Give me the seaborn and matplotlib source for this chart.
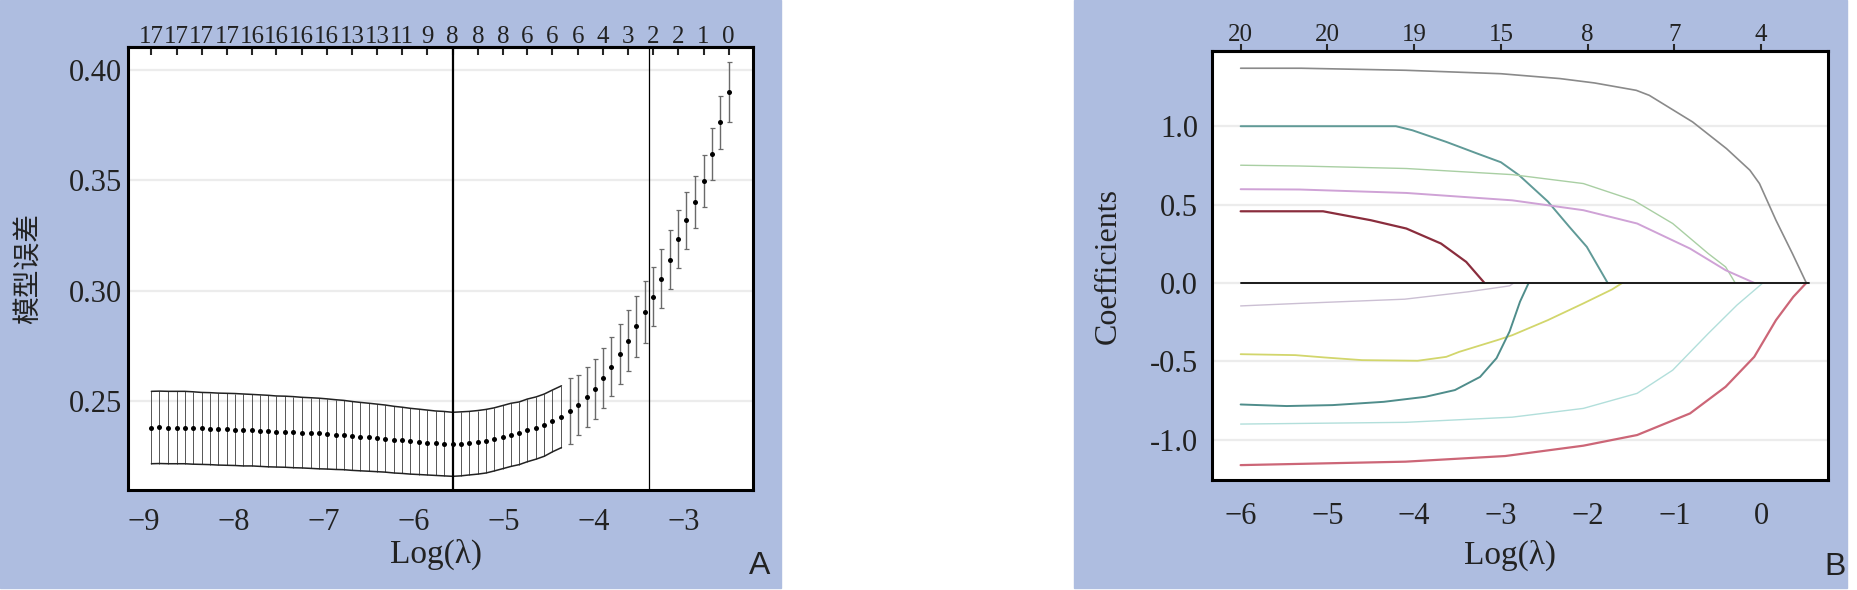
import pandas as pd
import seaborn as sns
import matplotlib
matplotlib.use("Agg")
import matplotlib.pyplot as plt
from matplotlib.patches import Rectangle
from matplotlib.ticker import FormatStrFormatter

# ---- panel A: cross-validated error along the lambda path ----
log_lambda = [-8.92, -8.83, -8.73, -8.64, -8.55, -8.46, -8.36, -8.27, -8.18, -8.08,
              -7.99, -7.90, -7.80, -7.71, -7.62, -7.53, -7.43, -7.34, -7.25, -7.15,
              -7.06, -6.97, -6.87, -6.78, -6.69, -6.60, -6.50, -6.41, -6.32, -6.22,
              -6.13, -6.04, -5.94, -5.85, -5.76, -5.67, -5.57, -5.48, -5.39, -5.29,
              -5.20, -5.11, -5.01, -4.92, -4.83, -4.74, -4.64, -4.55, -4.46, -4.36,
              -4.27, -4.18, -4.08, -3.99, -3.90, -3.81, -3.71, -3.62, -3.53, -3.43,
              -3.34, -3.25, -3.15, -3.06, -2.97, -2.88, -2.78, -2.69, -2.60, -2.50]
cv_mean = [0.2380, 0.2381, 0.2380, 0.2380, 0.2380, 0.2378,
           0.2376, 0.2375, 0.2373, 0.2372, 0.2371, 0.2369,
           0.2368, 0.2366, 0.2364, 0.2362, 0.2361, 0.2359,
           0.2357, 0.2355, 0.2353, 0.2351, 0.2348, 0.2346,
           0.2342, 0.2339, 0.2336, 0.2333, 0.2330, 0.2325,
           0.2322, 0.2318, 0.2315, 0.2312, 0.2309, 0.2307,
           0.2304, 0.2306, 0.2309, 0.2313, 0.2318, 0.2326,
           0.2337, 0.2347, 0.2354, 0.2367, 0.2378, 0.2391, 0.2410, 0.2429,
           0.2454, 0.2483, 0.2517, 0.2556, 0.2604, 0.2655, 0.2714, 0.2774, 0.2838, 0.2905,
           0.2973, 0.3054, 0.3141, 0.3235, 0.3320, 0.3403, 0.3498, 0.3621, 0.3762, 0.3898]
cv_se = [0.0164, 0.0164, 0.0164, 0.0164, 0.0164, 0.0164, 0.0163, 0.0163, 0.0163, 0.0163,
         0.0163, 0.0163, 0.0162, 0.0162, 0.0162, 0.0161, 0.0161, 0.0161, 0.0160, 0.0160,
         0.0160, 0.0159, 0.0158, 0.0157, 0.0156, 0.0155, 0.0154, 0.0153, 0.0152, 0.0151,
         0.0150, 0.0149, 0.0148, 0.0147, 0.0146, 0.0146, 0.0145, 0.0145, 0.0144, 0.0144,
         0.0144, 0.0143, 0.0143, 0.0143, 0.0142, 0.0142, 0.0141, 0.0141, 0.0140, 0.0140,
         0.0149, 0.0136, 0.0136, 0.0136, 0.0136, 0.0133, 0.0137, 0.0139, 0.0137, 0.0140,
         0.0134, 0.0133, 0.0133, 0.0130, 0.0129, 0.0118, 0.0117, 0.0118, 0.0122, 0.0136]
top_df_a = [17, 17, 17, 17, 16, 16, 16, 16, 13, 13, 11, 9,
            8, 8, 8, 6, 6, 6, 4, 3, 2, 2, 1, 0]
log_lambda_min = -5.57
log_lambda_1se = -3.39

# ---- panel B: coefficient paths ----
p1_x = [-6.0, -5.3, -4.1, -3.0, -2.32, -1.92, -1.44, -1.29, -0.79, -0.40, -0.13, -0.02, 0.17, 0.36, 0.52]
p1_y = [1.37, 1.37, 1.357, 1.335, 1.304, 1.276, 1.229, 1.197, 1.027, 0.857, 0.719, 0.634, 0.40, 0.187, 0.0]
p2_x = [-6.0, -4.21, -4.02, -3.63, -3.27, -3.0, -2.79, -2.46, -2.21, -2.01, -1.77]
p2_y = [1.0, 1.0, 0.974, 0.90, 0.825, 0.77, 0.687, 0.52, 0.357, 0.23, 0.0]
p3_x = [-6.0, -5.32, -4.09, -2.87, -2.05, -1.47, -1.02, -0.61, -0.41, -0.3]
p3_y = [0.751, 0.746, 0.73, 0.691, 0.634, 0.527, 0.379, 0.187, 0.102, 0.0]
p4_x = [-6.0, -5.32, -4.09, -2.87, -2.05, -1.43, -0.82, -0.41, -0.08]
p4_y = [0.598, 0.596, 0.574, 0.527, 0.464, 0.379, 0.219, 0.081, 0.0]
p5_x = [-6.0, -5.05, -4.5, -4.09, -3.69, -3.40, -3.19]
p5_y = [0.457, 0.457, 0.40, 0.347, 0.251, 0.134, 0.0]
p6_x = [-6.0, -5.33, -4.11, -3.38, -2.9, -2.85]
p6_y = [-0.147, -0.131, -0.104, -0.057, -0.019, 0.0]
p7_x = [-6.0, -5.37, -5.03, -4.6, -3.96, -3.63, -3.48, -3.04, -2.87, -2.46, -2.05, -1.72, -1.6]
p7_y = [-0.455, -0.461, -0.476, -0.493, -0.497, -0.472, -0.44, -0.365, -0.334, -0.238, -0.131, -0.042, 0.0]
p8_x = [-6.0, -5.47, -4.94, -4.35, -3.87, -3.53, -3.24, -3.05, -2.9, -2.78, -2.68]
p8_y = [-0.776, -0.786, -0.78, -0.759, -0.727, -0.684, -0.6, -0.48, -0.31, -0.12, 0.0]
p9_x = [-6.0, -4.1, -2.87, -2.05, -1.43, -1.02, -0.61, -0.28, 0.02]
p9_y = [-0.901, -0.89, -0.857, -0.801, -0.705, -0.557, -0.323, -0.142, 0.0]
p10_x = [-6.0, -4.1, -2.95, -2.05, -1.43, -0.82, -0.41, -0.08, 0.17, 0.37, 0.52]
p10_y = [-1.163, -1.141, -1.105, -1.039, -0.971, -0.833, -0.663, -0.472, -0.238, -0.089, 0.0]
zero_x = [-6.0, 0.55]
zero_y = [0.0, 0.0]
top_ticks_b = [-6, -5, -4, -3, -2, -1, 0]
top_df_b = [20, 20, 19, 15, 8, 7, 4]

paths = [(p1_x, p1_y, "#8a8a8a", 1.2), (p2_x, p2_y, "#609a97", 1.4),
         (p3_x, p3_y, "#a9cfa3", 1.0), (p4_x, p4_y, "#cfa2d6", 1.4),
         (p5_x, p5_y, "#8a2d3d", 1.6), (p6_x, p6_y, "#cbbfd3", 1.0),
         (p7_x, p7_y, "#d2d66c", 1.3), (p8_x, p8_y, "#4f8d8b", 1.4),
         (p9_x, p9_y, "#b2dfdb", 1.0), (p10_x, p10_y, "#cc6677", 1.6)]

sns.set_style("white")
plt.rcParams["font.family"] = ["Liberation Serif", "Noto Sans CJK SC", "DejaVu Sans"]
plt.rcParams["axes.unicode_minus"] = True

W, H = 1857, 590
BLUE = "#aebde0"
fig = plt.figure(figsize=(W / 100, H / 100), dpi=100)
fig.patch.set_facecolor("white")
fig.patches.append(Rectangle((0, 2 / H), 781 / W, 588 / H, transform=fig.transFigure,
                             color=BLUE, zorder=-5))
fig.patches.append(Rectangle((1074 / W, 2 / H), 773 / W, 588 / H, transform=fig.transFigure,
                             color=BLUE, zorder=-5))


def px_axes(left, top, right, bottom):
    return fig.add_axes([left / W, 1 - bottom / H, (right - left) / W, (bottom - top) / H])


axA = px_axes(128, 47, 753, 490)
axB = px_axes(1212, 51, 1828, 480)
axA.set_facecolor("white")
axB.set_facecolor("white")

# ---------------- panel A ----------------
df_a = pd.DataFrame({"log_lambda": log_lambda, "mean": cv_mean, "se": cv_se})
band = df_a.iloc[:50]
bars = df_a.iloc[50:]
axA.vlines(band["log_lambda"], band["mean"] - band["se"], band["mean"] + band["se"],
           color="#3a3a3a", lw=0.6)
axA.plot(band["log_lambda"], band["mean"] + band["se"], color="#222222", lw=1.1)
axA.plot(band["log_lambda"], band["mean"] - band["se"], color="#222222", lw=1.1)
axA.errorbar(bars["log_lambda"], bars["mean"], yerr=bars["se"], fmt="none",
             ecolor="#6a6a6a", elinewidth=1.0, capsize=1.8, capthick=0.9)
sns.scatterplot(data=df_a, x="log_lambda", y="mean", ax=axA, color="black",
                s=13, linewidth=0, zorder=5)
axA.axvline(log_lambda_min, color="black", lw=1.6)
axA.axvline(log_lambda_1se, color="black", lw=0.9)

axA.set_xlim(-9.18, -2.23)
axA.set_ylim(0.2097, 0.4104)
axA.set_xticks(range(-9, -2))
axA.set_yticks([0.25, 0.30, 0.35, 0.40])
axA.yaxis.set_major_formatter(FormatStrFormatter("%.2f"))
axA.yaxis.grid(True, color="#ececec", lw=1.6)
axA.xaxis.grid(False)
axA.set_axisbelow(True)
axA.tick_params(axis="both", direction="in", length=5.5, width=1.5, labelsize=22,
                colors="black", labelcolor="#222222")
axA.tick_params(axis="x", pad=13)
axA.tick_params(axis="y", pad=4)
secA = axA.secondary_xaxis("top")
secA.set_xticks(log_lambda[::3])
secA.set_xticklabels([str(v) for v in top_df_a])
secA.tick_params(direction="in", length=5.5, width=1.5, labelsize=18, pad=-1,
                 labelcolor="#222222")
secA.spines["top"].set_linewidth(2.2)
for s in axA.spines.values():
    s.set_linewidth(2.2)
    s.set_color("black")
axA.set_xlabel("Log(λ)", fontsize=24, va="center", color="#222222")
axA.xaxis.set_label_coords(0.493, -0.145)
axA.set_ylabel("模型误差", fontsize=20, va="center", ha="center", color="#222222")
axA.yaxis.set_label_coords(-0.157, 0.5)

# ---------------- panel B ----------------
for xs, ys, col, lw in paths:
    sns.lineplot(x=xs, y=ys, ax=axB, color=col, lw=lw, estimator=None, sort=False)
axB.plot(zero_x, zero_y, color="#1a1a1a", lw=1.4, zorder=4)

axB.set_xlim(-6.33, 0.77)
axB.set_ylim(-1.258, 1.48)
axB.set_xticks(range(-6, 1))
axB.set_yticks([-1.0, -0.5, 0.0, 0.5, 1.0])
axB.yaxis.set_major_formatter(FormatStrFormatter("%.1f"))
axB.yaxis.grid(True, color="#ececec", lw=1.6)
axB.xaxis.grid(False)
axB.set_axisbelow(True)
axB.tick_params(axis="both", direction="out", length=7, width=1.5, labelsize=22,
                colors="black", labelcolor="#222222")
axB.tick_params(axis="x", pad=9)
axB.tick_params(axis="y", pad=3)
secB = axB.secondary_xaxis("top")
secB.set_xticks(top_ticks_b)
secB.set_xticklabels([str(v) for v in top_df_b])
secB.tick_params(direction="out", length=5.3, width=1.5, labelsize=18, pad=-2,
                 labelcolor="#222222")
secB.spines["top"].set_linewidth(2.2)
for s in axB.spines.values():
    s.set_linewidth(2.2)
    s.set_color("black")
axB.set_xlabel("Log(λ)", fontsize=24, va="center", color="#222222")
axB.xaxis.set_label_coords(0.484, -0.175)
axB.set_ylabel("Coefficients", fontsize=23, va="center", ha="center", color="#222222")
axB.yaxis.set_label_coords(-0.169, 0.5)

fig.text(760 / W, 1 - 566 / H, "A", family="Liberation Sans", fontsize=23,
         ha="center", va="center", color="#222222")
fig.text(1835 / W, 1 - 567 / H, "B", family="Liberation Sans", fontsize=23,
         ha="center", va="center", color="#222222")

fig.savefig("out.png", dpi=100, facecolor=fig.get_facecolor())
